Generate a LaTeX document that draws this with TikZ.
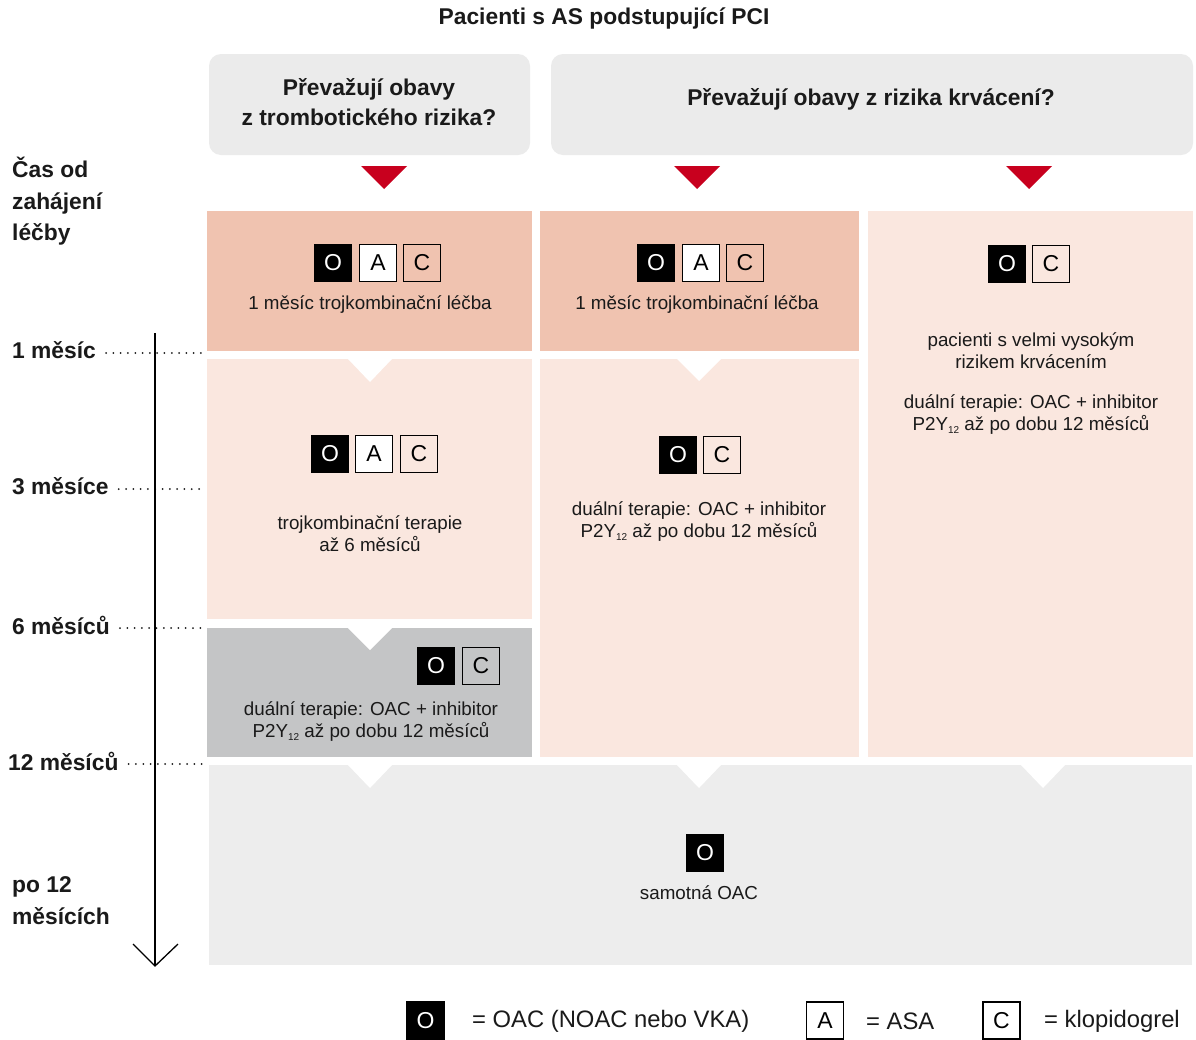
\documentclass[tikz,border=0pt]{standalone}
\usepackage{fontspec}
\setmainfont{Liberation Sans}
\definecolor{salmon}{HTML}{F0C3B0}
\definecolor{blush}{HTML}{FAE7DF}
\definecolor{midgray}{HTML}{C4C5C6}
\definecolor{hdrgray}{HTML}{EBEBEB}
\definecolor{botgray}{HTML}{EDEDED}
\definecolor{redmark}{HTML}{C8001E}
\definecolor{ink}{HTML}{1A1A1A}
\newcommand\regfont{\fontsize{18.8}{21.5}\selectfont}
\newcommand\hdrfont{\bfseries\fontsize{22.8}{30}\selectfont}
\newcommand\lblfont{\bfseries\fontsize{22.8}{31.5}\selectfont}
\newcommand\drugfont{\fontsize{23}{23}\selectfont}
\newcommand\legfont{\fontsize{23.8}{24}\selectfont}
\newcommand\myidx[1]{\raisebox{-0.35ex}{\fontsize{10}{10}\selectfont #1}}
\begin{document}
\begin{tikzpicture}[x=1pt,y=-1pt,
  txt/.style={font=\regfont, align=center, inner sep=0pt, text=ink},
  hdr/.style={font=\hdrfont, align=center, inner sep=0pt, text=ink},
  lbl/.style={font=\lblfont, align=left, inner sep=0pt, anchor=west, text=ink},
  leg/.style={font=\legfont, inner sep=0pt, anchor=west, text=ink},
  drug/.style={draw=black, line width=1.4pt, minimum size=37pt, inner sep=0pt, font=\drugfont},
  obox/.style={drug, fill=black, text=white},
  abox/.style={drug, fill=white},
  cbox/.style={drug},
  notch/.style={fill=white},
  redtri/.style={fill=redmark},
  hdrbox/.style={fill=hdrgray, rounded corners=12pt},
  axisline/.style={line width=1.3pt, black},
  dotline/.style={line width=2pt, line cap=round, dash pattern=on 0pt off 7.3pt, ink},
]
\useasboundingbox (0,0) rectangle (1196,1039);
\fill[white] (0,0) rectangle (1196,1039);

% title
\node[hdr] (title) at (604,19) {Pacienti s AS podstupující PCI};

% header boxes
\fill[hdrbox] (209,54) rectangle (530,155);
\node[hdr] (h1) at (369,102) {Převažují obavy\\z trombotického rizika?};
\fill[hdrbox] (551,54) rectangle (1193,155);
\node[hdr] (h2) at (871,99) {Převažují obavy z rizika krvácení?};

% red triangles
\fill[redtri] (361,166) -- (407,166) -- (384,189) -- cycle;
\fill[redtri] (674,166) -- (720,166) -- (697,189) -- cycle;
\fill[redtri] (1006,166) -- (1052,166) -- (1029,189) -- cycle;

% panels
\fill[salmon] (207,211) rectangle (532,351);
\fill[salmon] (540,211) rectangle (859,351);
\fill[blush] (868,211) rectangle (1193,757);
\fill[blush] (207,359) rectangle (532,619);
\fill[midgray] (207,628) rectangle (532,757);
\fill[blush] (540,359) rectangle (859,757);
\fill[botgray] (209,765) rectangle (1192,965);

% notches
\fill[notch] (348,359) -- (392,359) -- (370,382) -- cycle;
\fill[notch] (348,628) -- (392,628) -- (370,650) -- cycle;
\fill[notch] (677,359) -- (721,359) -- (699,381) -- cycle;
\fill[notch] (348,765) -- (392,765) -- (370,788) -- cycle;
\fill[notch] (677,765) -- (721,765) -- (699,788) -- cycle;
\fill[notch] (1021,765) -- (1065,765) -- (1043,788) -- cycle;

% column 1 top
\node[obox] (o1) at (333,263) {O};
\node[abox] (a1) at (378,263) {A};
\node[cbox] (c1) at (422,263) {C};
\node[txt] (t1) at (370,305) {1 měsíc trojkombinační léčba};

% column 2 top
\node[obox] (o2) at (656,263) {O};
\node[abox] (a2) at (701,263) {A};
\node[cbox] (c2) at (745,263) {C};
\node[txt] (t2) at (697,305) {1 měsíc trojkombinační léčba};

% column 3
\node[obox] (o3) at (1007,264) {O};
\node[cbox] (c3) at (1051,264) {C};
\node[txt] (t3a) at (1031,350.5) {pacienti s velmi vysokým\\rizikem krvácením};
\node[txt] (t3b) at (1031,414.5) {duální terapie: OAC + inhibitor\\P2Y\myidx{12} až po dobu 12 měsíců};

% column 1 middle
\node[obox] (o4) at (330,454) {O};
\node[abox] (a4) at (374,454) {A};
\node[cbox] (c4) at (419,454) {C};
\node[txt] (t4) at (370,533.5) {trojkombinační terapie\\až 6 měsíců};

% column 2 middle
\node[obox] (o5) at (678,455) {O};
\node[cbox] (c5) at (722,455) {C};
\node[txt] (t5) at (699,521.5) {duální terapie: OAC + inhibitor\\P2Y\myidx{12} až po dobu 12 měsíců};

% column 1 gray
\node[obox] (o6) at (436,666) {O};
\node[cbox] (c6) at (481,666) {C};
\node[txt] (t6) at (371,721.5) {duální terapie: OAC + inhibitor\\P2Y\myidx{12} až po dobu 12 měsíců};

% bottom
\node[obox] (o7) at (705,853) {O};
\node[txt] (t7) at (699,893) {samotná OAC};

% left labels
\node[lbl] (tstart) at (12,201.5) {Čas od\\zahájení\\léčby};
\node[lbl] (m1) at (12,350) {1 měsíc};
\node[lbl] (m3) at (12,486) {3 měsíce};
\node[lbl] (m6) at (12,625) {6 měsíců};
\node[lbl] (m12) at (8,761) {12 měsíců};
\node[lbl] (mpo) at (12,900.5) {po 12\\měsících};

% dotted leaders
\coordinate (dr) at (203,0);
\foreach \m in {m1,m3,m6,m12}{
  \draw[dotline] ([xshift=10pt,yshift=-3pt]\m.east) -- ([yshift=-3pt]\m.east -| dr);
}

% time axis
\coordinate (axtop) at (155,333);
\coordinate (axbot) at (155,966);
\coordinate (axl) at (133,944);
\coordinate (axr) at (178,944);
\draw[axisline] (axtop) -- (axbot);
\draw[axisline] (axl) -- (axbot) -- (axr);

% legend
\node[obox] (lo) at (425.5,1020.5) {O};
\node[leg] (lot) at (472,1021) {= OAC (NOAC nebo VKA)};
\node[abox] (la) at (825,1020.5) {A};
\node[leg] (lat) at (866,1021) {= ASA};
\node[cbox] (lc) at (1001.5,1020.5) {C};
\node[leg] (lct) at (1044,1021) {= klopidogrel};
\end{tikzpicture}
\end{document}
